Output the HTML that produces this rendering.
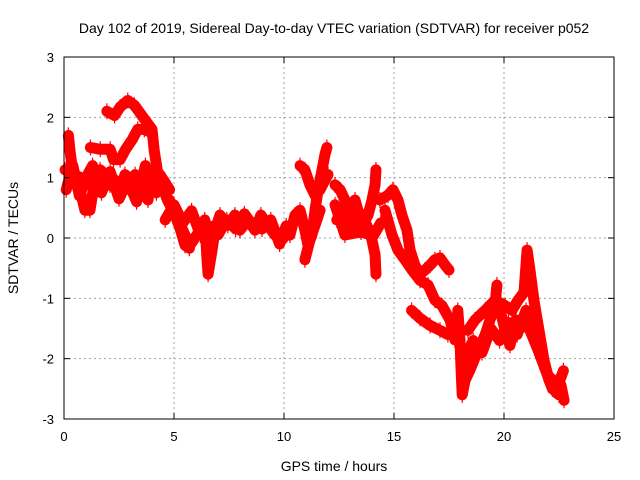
<!DOCTYPE html>
<html><head><meta charset="utf-8"><style>
body{margin:0;background:#fff}
svg{display:block;font-family:"Liberation Sans",sans-serif}
</style></head><body>
<svg id="chart" width="640" height="480">
<text x="334" y="33" font-size="14" text-anchor="middle">Day 102 of 2019, Sidereal Day-to-day VTEC variation (SDTVAR) for receiver p052</text>
<g id="grid"></g><g id="marks"></g><g id="axes"></g>
<text x="334" y="471" font-size="14" text-anchor="middle">GPS time / hours</text>
<text transform="translate(18,238) rotate(-90)" font-size="14" text-anchor="middle">SDTVAR / TECUs</text>
</svg>
<script>
const xTicks=[0,5,10,15,20,25];
const yTicks=[-3,-2,-1,0,1,2,3];
const trackAH=[1.95,2.3,2.55,2.9,3.2,3.6,4.0,4.1,4.25,4.45,4.7,5.05,5.3,5.5,5.7];
const trackAV=[2.1,2.03,2.17,2.28,2.2,2.0,1.8,1.45,1.1,0.88,0.63,0.38,0.13,-0.12,-0.17];
const trackBH=[1.2,1.65,2.1,2.25,2.55,2.8,3.1,3.35,3.65,3.9];
const trackBV=[1.5,1.47,1.47,1.3,1.3,1.47,1.63,1.8,1.8,1.76];
const trackCH=[0.2,0.27,0.36,0.5,0.73,0.95,1.18,1.4,1.64,1.86,2.09,2.55,2.77,3.09,3.45,3.82,4.0,4.36,4.8];
const trackCV=[1.7,1.45,1.2,0.96,0.8,0.46,0.46,0.96,1.13,1.05,0.88,0.8,1.05,0.96,0.8,0.63,1.05,1.05,0.8];
const trackDH=[0.05,0.5,0.95,1.4,1.86,2.32,2.77,3.23,3.68,4.1];
const trackDV=[1.13,1.05,0.96,0.8,0.96,0.96,0.8,1.05,0.96,0.9];
const trackD2H=[0.1,0.4,0.7,1.0,1.3,1.7,2.1,2.5,2.9,3.3,3.7,4.2];
const trackD2V=[0.8,1.2,0.7,1.0,1.2,0.75,1.1,0.65,0.95,0.6,1.2,0.75];
const trackEH=[4.8,5.05,5.3,5.5,5.73,6.18,6.4,6.5,6.55,6.73,6.86,7.09,7.45,7.77,8.0,8.36,8.68,8.95,9.27,9.59,9.91,10.27];
const trackEV=[0.63,0.38,0.21,0.05,-0.12,0.13,0.3,-0.36,-0.6,-0.2,0.13,0.38,0.21,0.38,0.13,0.3,0.13,0.38,0.21,0.05,-0.03,0.13];
const trackE2H=[4.6,5.0,5.4,5.8,6.2,6.6,7.0,7.4,7.8,8.2,8.6,9.0,9.4,9.8,10.1];
const trackE2V=[0.3,0.55,0.25,0.45,0.05,0.2,0.05,0.3,0.15,0.4,0.2,0.15,0.3,-0.1,0.2];
const trackFH=[10.27,10.5,10.73,10.95,11.09,11.27,11.41,11.55,11.73,11.86,11.95];
const trackFV=[0.05,0.38,0.46,0.13,-0.12,0.05,0.46,0.8,1.13,1.38,1.5];
const trackGH=[10.73,10.95,11.18,11.41,11.64,11.86,12.0];
const trackGV=[1.2,1.13,0.88,0.71,0.8,0.96,1.05];
const trackHH=[10.95,11.18,11.41,11.64];
const trackHV=[-0.36,-0.03,0.21,0.46];
const trackIH=[12.32,12.55,12.77,12.91,13.09,13.23,13.36,13.55,13.82,14.0,14.14,14.18];
const trackIV=[0.88,0.8,0.63,0.38,0.55,0.63,0.46,0.21,0.38,0.63,0.88,1.13];
const trackJH=[12.32,12.55,12.77,13.5,13.95,14.14,14.18];
const trackJV=[0.55,0.3,0.05,0.1,0.05,-0.28,-0.6];
const trackJ2H=[12.4,12.8,13.2,13.6,14.0,14.4];
const trackJ2V=[0.3,0.5,0.15,0.35,0.0,0.25];
const trackKH=[14.36,14.73,14.95,15.18,15.36,15.59,15.73,15.95,16.18,16.41,16.64,16.86,17.09,17.32,17.5];
const trackKV=[0.63,0.71,0.8,0.63,0.38,0.13,-0.2,-0.45,-0.6,-0.53,-0.45,-0.36,-0.33,-0.45,-0.53];
const trackLH=[14.59,14.91,15.18,15.5,15.82,16.18,16.55,16.86,17.18,17.55,17.77];
const trackLV=[0.46,0.05,-0.2,-0.36,-0.53,-0.7,-0.78,-1.03,-1.12,-1.36,-1.69];
const trackMH=[15.8,16.18,16.64,17.09,17.45];
const trackMV=[-1.2,-1.33,-1.45,-1.53,-1.6];
const trackNH=[17.9,18.0,18.05,18.1,18.23,18.45,18.82,19.14,19.36,19.59,19.68];
const trackNV=[-1.2,-1.69,-2.19,-2.6,-2.36,-2.19,-1.86,-1.61,-1.36,-1.12,-0.78];
const trackOH=[18.36,18.68,19.14,19.59,20.05,20.36,20.64,20.91,21.05,21.18,21.36,21.59,21.82,22.05,22.27,22.5,22.59,22.73];
const trackOV=[-1.53,-1.36,-1.2,-1.03,-1.12,-1.2,-1.03,-0.9,-0.2,-0.53,-1.03,-1.53,-2.03,-2.36,-2.52,-2.6,-2.44,-2.69];
const trackPH=[19.82,20.05,20.27,20.55,20.86,21.18,21.55,22.0,22.45,22.7];
const trackPV=[-1.2,-1.53,-1.78,-1.36,-1.4,-1.53,-1.86,-2.28,-2.44,-2.2];
const trackQH=[18.2,18.6,19.0,19.4,19.8,20.2,20.6,21.0,21.4,21.8,22.2,22.6];
const trackQV=[-2.0,-1.7,-1.9,-1.5,-1.7,-1.4,-1.6,-1.2,-1.7,-2.1,-2.5,-2.3];
const tracks=[[trackAH,trackAV],[trackBH,trackBV],[trackCH,trackCV],[trackDH,trackDV],[trackD2H,trackD2V],[trackEH,trackEV],[trackE2H,trackE2V],[trackFH,trackFV],[trackGH,trackGV],[trackHH,trackHV],[trackIH,trackIV],[trackJH,trackJV],[trackJ2H,trackJ2V],[trackKH,trackKV],[trackLH,trackLV],[trackMH,trackMV],[trackNH,trackNV],[trackOH,trackOV],[trackPH,trackPV],[trackQH,trackQV]];
const L=64,R=614,T=57,B=419;
const xs=h=>L+(h-0)/25*(R-L);
const ys=v=>B-(v+3)/6*(B-T);
const NS="http://www.w3.org/2000/svg";
function mk(tag,attrs,parent){const e=document.createElementNS(NS,tag);for(const k in attrs)e.setAttribute(k,attrs[k]);parent.appendChild(e);return e;}
const grid=document.getElementById('grid'),axes=document.getElementById('axes'),marks=document.getElementById('marks');
xTicks.forEach(t=>{const x=xs(t);
 if(t>0&&t<25){const g=mk('line',{x1:x,x2:x,y1:T,y2:B,stroke:'#a0a0a0','stroke-dasharray':'2,3'},grid);
 
 }
 mk('line',{x1:x,x2:x,y1:B,y2:B-6,stroke:'#000'},axes);mk('line',{x1:x,x2:x,y1:T,y2:T+6,stroke:'#000'},axes);
 const tx=mk('text',{x:x,y:B+22,'font-size':13,'text-anchor':'middle'},axes);tx.textContent=t;
 
 
});
yTicks.forEach(t=>{const y=ys(t);
 if(t>-3&&t<3){const g=mk('line',{x1:L,x2:R,y1:y,y2:y,stroke:'#a0a0a0','stroke-dasharray':'2,3'},grid);
 
 }
 mk('line',{x1:L,x2:L+6,y1:y,y2:y,stroke:'#000'},axes);mk('line',{x1:R,x2:R-6,y1:y,y2:y,stroke:'#000'},axes);
 const tx=mk('text',{x:L-10,y:y+5,'font-size':13,'text-anchor':'end'},axes);tx.textContent=t;
 
 
});
const fr=mk('rect',{x:L,y:T,width:R-L,height:B-T,fill:'none',stroke:'#000'},axes);


tracks.forEach(([H,V],i)=>{
 const pts=H.map((h,j)=>xs(h)+','+ys(V[j])).join(' ');
 const pl=mk('polyline',{points:pts,fill:'none',stroke:'#ff0000','stroke-width':11,'stroke-linejoin':'round','stroke-linecap':'round'},marks);
 
 
 H.forEach((h,j)=>{const x=xs(h),y=ys(V[j]);
  const p=mk('path',{d:`M${x-5},${y}H${x+5}M${x},${y-8}V${y+8}`,stroke:'#ff0000','stroke-width':1.2},marks);
  
  
 });
});
</script>
</body></html>
